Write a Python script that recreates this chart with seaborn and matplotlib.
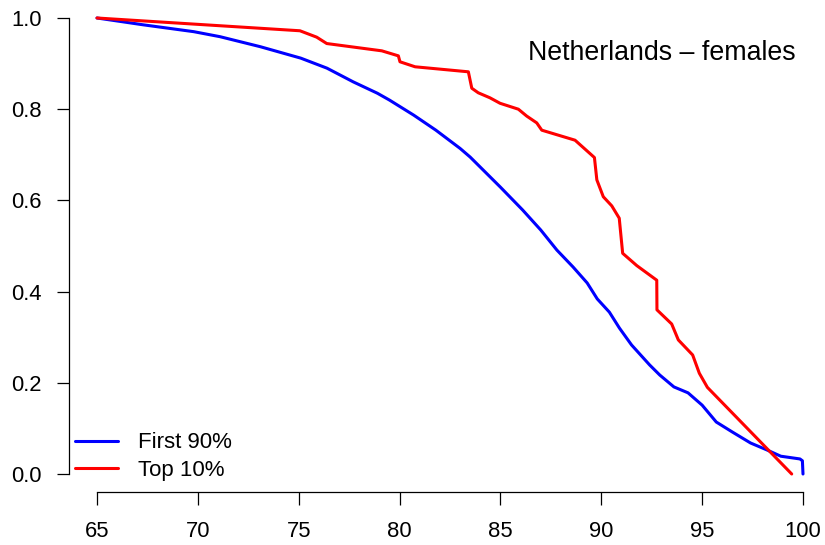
import matplotlib
matplotlib.use("Agg")
import matplotlib.pyplot as plt
import seaborn as sns
import pandas as pd

# ---- data ----
blue_age = [65.0, 67.3, 69.8, 71.1, 73.1, 75.1, 76.4, 77.7, 78.9, 79.5, 80.7, 81.8,
            83.0, 83.5, 85.0, 86.1, 87.0, 87.8, 88.6, 89.3, 89.8, 90.4, 90.9, 91.5,
            92.4, 92.9, 93.6, 94.3, 95.0, 95.7, 96.5, 97.4, 98.2, 98.9, 99.85, 99.97, 100.0]
blue_surv = [1.0, 0.985, 0.970, 0.959, 0.937, 0.912, 0.890, 0.860, 0.835, 0.820, 0.787, 0.754,
             0.714, 0.695, 0.629, 0.579, 0.535, 0.491, 0.454, 0.419, 0.384, 0.355, 0.320, 0.283,
             0.239, 0.217, 0.191, 0.178, 0.151, 0.114, 0.092, 0.068, 0.053, 0.039, 0.033, 0.029, 0.0]

red_age = [65.0, 75.06, 75.89, 76.39, 79.12, 79.94, 80.02, 80.77, 83.41, 83.58, 83.90, 84.48,
           84.98, 85.89, 86.30, 86.80, 87.05, 88.70, 89.66, 89.78, 90.10, 90.52, 90.89, 91.06,
           91.76, 92.75, 92.76, 93.49, 93.82, 94.53, 94.86, 95.26, 99.44]
red_surv = [1.0, 0.972, 0.958, 0.944, 0.928, 0.917, 0.904, 0.893, 0.882, 0.846, 0.836, 0.825,
            0.813, 0.800, 0.785, 0.770, 0.754, 0.732, 0.694, 0.645, 0.608, 0.588, 0.561, 0.484,
            0.457, 0.425, 0.360, 0.329, 0.294, 0.261, 0.221, 0.190, 0.0]

series_names = ["First 90%", "Top 10%"]
series_colors = ["#0000FF", "#FF0000"]
x_ticks = [65, 70, 75, 80, 85, 90, 95, 100]
y_ticks = [0.0, 0.2, 0.4, 0.6, 0.8, 1.0]
title_text = "Netherlands \u2013 females"

df = pd.concat([
    pd.DataFrame({"age": blue_age, "surv": blue_surv, "group": series_names[0]}),
    pd.DataFrame({"age": red_age, "surv": red_surv, "group": series_names[1]}),
], ignore_index=True)

sns.set_style("white")
plt.rcParams["font.family"] = ["Liberation Sans", "DejaVu Sans"]
plt.rcParams["text.color"] = "black"

W, H = 825, 545
fig = plt.figure(figsize=(W / 100, H / 100), dpi=100)
# pixel mapping: x 65->97px, 100->803px ; y 1.0->18px, 0->474px
px_per_x = (803 - 97) / 35.0
px_per_y = (474 - 18) / 1.0
xl0, xl1 = 63.6, 101.4
yl0, yl1 = -0.04, 1.04
left_px = 97 + (xl0 - 65) * px_per_x
right_px = 97 + (xl1 - 65) * px_per_x
bot_px = 474 - (yl0) * px_per_y
top_px = 474 - (yl1) * px_per_y
ax = fig.add_axes([left_px / W, 1 - bot_px / H, (right_px - left_px) / W, (bot_px - top_px) / H])

sns.lineplot(data=df, x="age", y="surv", hue="group", palette=series_colors,
             sort=False, estimator=None, linewidth=2.2, ax=ax)

ax.set_xlim(xl0, xl1)
ax.set_ylim(yl0, yl1)
ax.set_xticks(x_ticks)
ax.set_xticklabels([str(t) for t in x_ticks])
ax.set_yticks(y_ticks)
ax.set_yticklabels([f"{t:.1f}" for t in y_ticks])
ax.set_xlabel("")
ax.set_ylabel("")

for s in ["top", "right"]:
    ax.spines[s].set_visible(False)
for s in ["left", "bottom"]:
    ax.spines[s].set_color("black")
    ax.spines[s].set_linewidth(0.9)
ax.spines["left"].set_bounds(0, 1)
ax.spines["bottom"].set_bounds(65, 100)

ax.tick_params(axis="both", which="both", direction="out", length=9, width=0.9,
               color="black", labelsize=15.8, labelcolor="black")
ax.tick_params(axis="x", pad=12, bottom=True)
ax.tick_params(axis="y", pad=10.5, left=True)
ax.xaxis.set_ticks_position("bottom")
ax.yaxis.set_ticks_position("left")

handles, labels = ax.get_legend_handles_labels()
ax.legend(handles, labels, loc="lower left", bbox_to_anchor=(75 / W, 1 - 481 / H),
          bbox_transform=fig.transFigure, frameon=False, fontsize=16,
          handlelength=1.95, handletextpad=0.9, borderpad=0, borderaxespad=0,
          labelspacing=0.3, labelcolor="black")

fig.text(662 / W, 1 - 60 / H, title_text, ha="center", va="baseline", fontsize=19.3,
         color="black")

fig.savefig("out.png", dpi=100)
